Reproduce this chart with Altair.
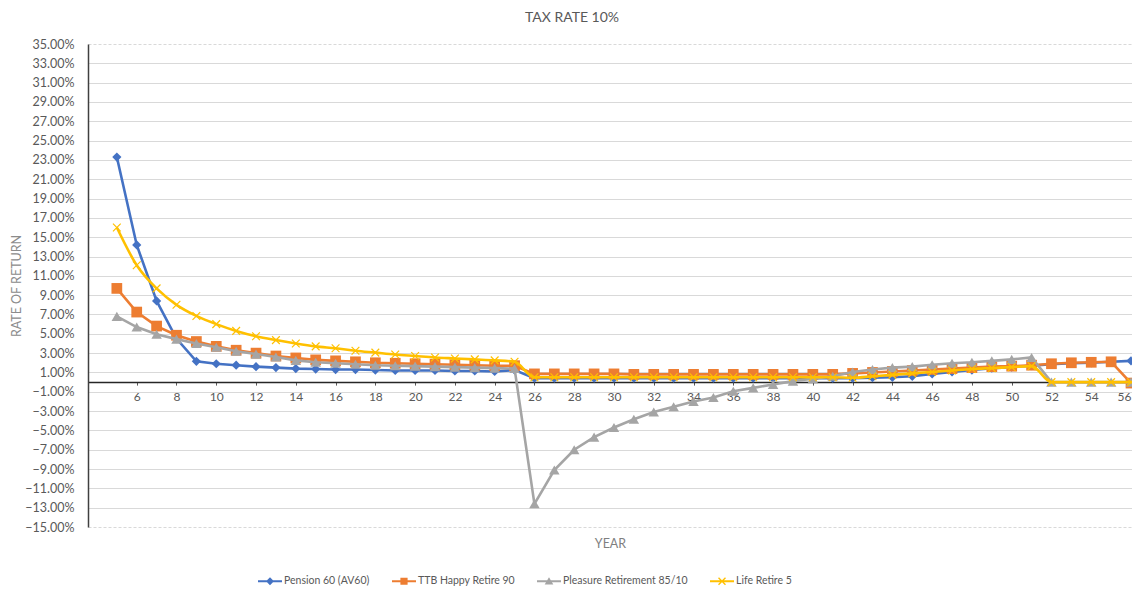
import altair as alt
import pandas as pd

years = list(range(5, 57))

series_names = ["Pension 60 (AV60)", "TTB Happy Retire 90", "Pleasure Retirement 85/10", "Life Retire 5"]
series_colors = ["#4472C4", "#ED7D31", "#A5A5A5", "#FFC000"]

pension = [23.3, 14.2, 8.4, 4.5, 2.15, 1.9, 1.75, 1.6, 1.5, 1.4, 1.35, 1.3, 1.3, 1.25, 1.2, 1.2, 1.2, 1.15, 1.15, 1.1, 1.25,
           0.4, 0.4, 0.4, 0.4, 0.4, 0.4, 0.4, 0.4, 0.4, 0.4, 0.4, 0.4, 0.4, 0.4, 0.4, 0.4,
           0.4, 0.45, 0.5, 0.6, 0.85, 1.05, 1.25, 1.45, 1.55, 1.7,
           1.85, 1.95, 2.0, 2.1, 2.2]
ttb = [9.7, 7.25, 5.8, 4.85, 4.2, 3.7, 3.3, 3.0, 2.7, 2.5, 2.3, 2.2, 2.1, 2.0, 1.95, 1.9, 1.85, 1.8, 1.75, 1.7, 1.7,
       0.85, 0.85, 0.85, 0.85, 0.85, 0.8, 0.8, 0.8, 0.8, 0.8, 0.8, 0.8, 0.8, 0.8, 0.8, 0.8,
       0.9, 1.0, 1.1, 1.2, 1.3, 1.4, 1.5, 1.6, 1.65, 1.75,
       1.9, 2.0, 2.05, 2.1, -0.1]
pleasure = [6.8, 5.7, 4.95, 4.45, 4.0, 3.6, 3.2, 2.9, 2.6, 2.25, 2.05, 1.95, 1.85, 1.75, 1.7, 1.65, 1.6, 1.55, 1.5, 1.45, 1.4,
            -12.6, -9.1, -7.0, -5.7, -4.7, -3.85, -3.1, -2.55, -2.0, -1.6, -0.95, -0.6, -0.25, 0.1, 0.35, 0.6,
            1.05, 1.3, 1.5, 1.6, 1.8, 1.95, 2.05, 2.2, 2.35, 2.55,
            0.0, 0.0, 0.0, 0.0, 0.0]
life = [16.0, 12.1, 9.7, 8.0, 6.85, 6.0, 5.3, 4.75, 4.35, 4.0, 3.7, 3.5, 3.25, 3.05, 2.85, 2.7, 2.55, 2.45, 2.35, 2.25, 2.1,
        0.5, 0.5, 0.5, 0.5, 0.5, 0.5, 0.5, 0.5, 0.5, 0.5, 0.5, 0.5, 0.5, 0.5, 0.5, 0.5,
        0.45, 0.6, 0.75, 0.9, 1.05, 1.2, 1.35, 1.45, 1.55, 1.65,
        0.0, 0.0, 0.0, 0.0, 0.0]

y_ticks = list(range(-15, 36, 2))
x_ticks = list(range(6, 57, 2))

rows = []
for name, vals in zip(series_names, [pension, ttb, pleasure, life]):
    for yr, v in zip(years, vals):
        rows.append({"year": yr, "rate": v, "series": name})
df = pd.DataFrame(rows)

FONT = "Lato"
TXT = "#595959"
W, H = 1044, 483

color_scale = alt.Scale(domain=series_names, range=series_colors)

x_enc = alt.X(
    "year:Q",
    scale=alt.Scale(domain=[3.55, 56.05], nice=False, zero=False),
    axis=alt.Axis(
        values=x_ticks, offset=-0.3 * H, grid=False,
        domainColor="#262626", domainWidth=1.5,
        tickColor="#595959", tickSize=3, labelPadding=6,
        labelFont=FONT, labelFontSize=12, labelColor=TXT,
        title="YEAR", titleFont=FONT, titleFontSize=12.5, titleFontWeight="normal",
        titleColor="#7f7f7f", titleY=161, titleBaseline="middle",
    ),
)
y_enc = alt.Y(
    "rate:Q",
    scale=alt.Scale(domain=[-15, 35], nice=False, zero=False),
    axis=alt.Axis(
        values=y_ticks, labelExpr="format(datum.value, '.2f') + '%'",
        grid=True, gridColor="#d9d9d9", gridWidth=1,
        gridDash={"condition": {"test": "datum.value == 35 || datum.value == -15", "value": [3, 2]}, "value": []},
        domainColor="#404040", domainWidth=1.5, ticks=False, labelPadding=14,
        labelFont=FONT, labelFontSize=12.5, labelColor=TXT,
        title="RATE OF RETURN", titleFont=FONT, titleFontSize=12.5, titleFontWeight="normal",
        titleColor="#8c8c8c", titleX=-72, titleY=241.5, titleBaseline="middle", titleAlign="center",
    ),
)
c_enc = alt.Color("series:N", scale=color_scale, legend=None)

base = alt.Chart(df)

marker_specs = [
    dict(shape="diamond", size=85, filled=True),
    dict(shape="square", size=115, filled=True),
    dict(shape="triangle-up", size=110, filled=True),
    dict(shape="M-1,-1L1,1M-1,1L1,-1", size=60, filled=False, strokeWidth=1.2),
]
interps = ["linear", "linear", "linear", "monotone"]

layers = []
for name, spec, interp in zip(series_names, marker_specs, interps):
    sub = base.transform_filter(alt.datum.series == name)
    layers.append(sub.mark_line(strokeWidth=2.6, interpolate=interp).encode(x=x_enc, y=y_enc, color=c_enc))
    layers.append(sub.mark_point(opacity=1, **spec).encode(x=x_enc, y=y_enc, color=c_enc))

bar = "M-1,-0.09L1,-0.09L1,0.09L-1,0.09Z"
legend_paths = [
    bar + "M0,-0.33L0.33,0L0,0.33L-0.33,0Z",
    bar + "M-0.3,-0.3L0.3,-0.3L0.3,0.3L-0.3,0.3Z",
    bar + "M0,-0.33L0.36,0.28L-0.36,0.28Z",
    bar + "M-0.25,-0.33L0.33,0.25L0.25,0.33L-0.33,-0.25Z" + "M0.25,-0.33L0.33,-0.25L-0.25,0.33L-0.33,0.25Z",
]
leg = alt.Legend(
    title=None, orient="none", direction="horizontal", columns=4,
    legendX=170, legendY=525, symbolSize=576, symbolStrokeWidth=0,
    labelFont=FONT, labelFontSize=10.5, labelColor=TXT, labelOffset=2,
    columnPadding=22, symbolOpacity=1,
)
legend_layer = base.mark_point(filled=True, opacity=0).encode(
    x=x_enc, y=y_enc,
    color=alt.Color("series:N", scale=color_scale, legend=leg),
    shape=alt.Shape("series:N", scale=alt.Scale(domain=series_names, range=legend_paths), legend=leg),
)
layers.insert(0, legend_layer)

chart = alt.layer(*layers).properties(
    width=W, height=H,
    title=alt.TitleParams("TAX RATE 10%", font=FONT, fontSize=14, fontWeight="normal", color=TXT, offset=13, dx=-38),
    autosize=alt.AutoSizeParams(type="none"),
    padding={"left": 80, "top": 36, "right": 0, "bottom": 61},
).configure_view(stroke=None)

chart.save("out.html", embed_options={"renderer": "svg", "actions": False})
